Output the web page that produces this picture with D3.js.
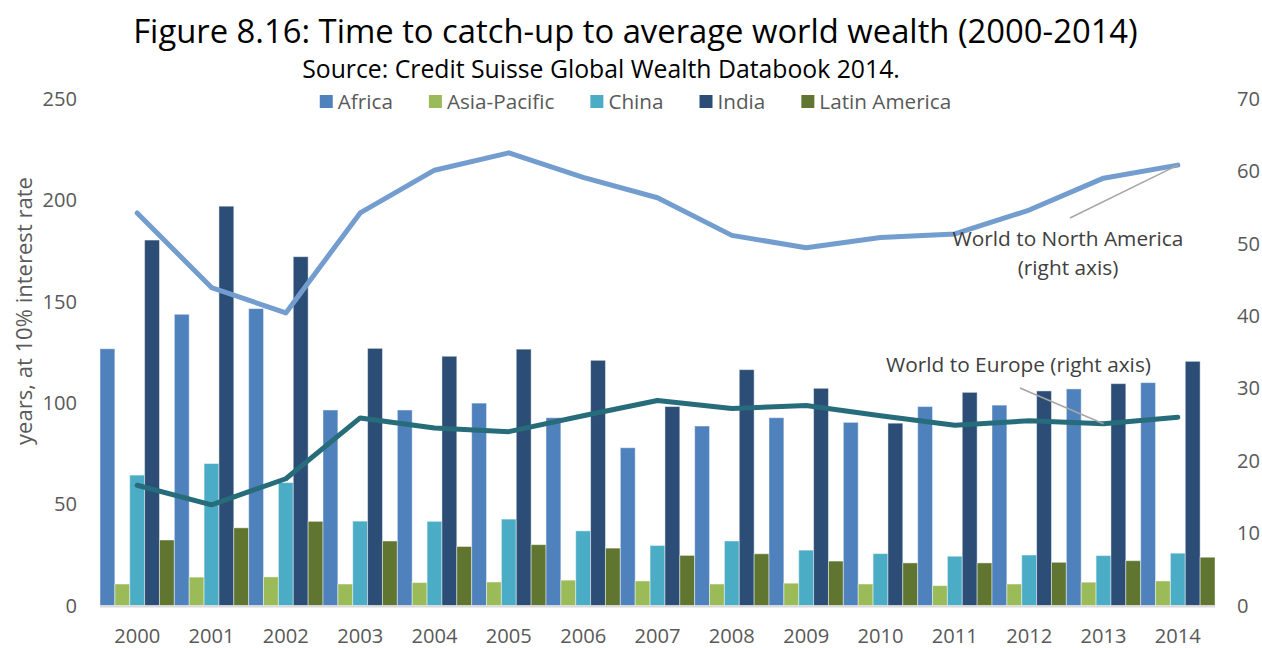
<!DOCTYPE html>
<html>
<head>
<meta charset="utf-8">
<script src="https://cdn.jsdelivr.net/npm/d3@7"></script>
<style>
  html, body { margin: 0; padding: 0; background: #fff; }
  svg { display: block; font-family: "Open Sans", "Noto Sans", sans-serif; }
</style>
</head>
<body>
<svg id="chart" width="1262" height="648"></svg>
<script>
// Years on the category axis
const years = ["2000","2001","2002","2003","2004","2005","2006","2007","2008","2009","2010","2011","2012","2013","2014"];

// Bar series (left axis): years to catch up, at 10% interest rate
const seriesNames = ["Africa", "Asia-Pacific", "China", "India", "Latin America"];
const africa       = [126.6, 143.6, 146.4, 96.4, 96.4, 99.8, 92.6, 77.8, 88.5, 92.6, 90.3, 98.1, 98.8, 106.8, 109.9];
const asiaPacific  = [10.6, 14.0, 14.1, 10.6, 11.3, 11.6, 12.5, 12.1, 10.6, 11.0, 10.6, 9.8, 10.6, 11.5, 12.1];
const china        = [64.3, 70.0, 60.6, 41.6, 41.5, 42.6, 36.8, 29.6, 31.8, 27.3, 25.6, 24.3, 24.9, 24.6, 25.8];
const india        = [180.2, 196.9, 172.0, 126.8, 122.9, 126.4, 120.9, 98.1, 116.3, 107.1, 89.9, 105.1, 105.8, 109.4, 120.4];
const latinAmerica = [32.3, 38.3, 41.5, 31.8, 29.1, 30.0, 28.3, 24.7, 25.5, 21.9, 21.0, 21.0, 21.3, 22.1, 23.8];

// Line series (right axis)
const worldToNorthAmerica = [54.2, 43.9, 40.4, 54.2, 60.1, 62.5, 59.1, 56.3, 51.1, 49.4, 50.8, 51.3, 54.6, 59.0, 60.8];
const worldToEurope       = [16.6, 13.9, 17.5, 25.9, 24.5, 24.0, 26.2, 28.3, 27.2, 27.6, 26.2, 24.9, 25.5, 25.1, 26.0];

// Axis ticks
const leftTicks  = [0, 50, 100, 150, 200, 250];
const rightTicks = [0, 10, 20, 30, 40, 50, 60, 70];

const titleText    = "Figure 8.16: Time to catch-up to average world wealth (2000-2014)";
const subtitleText = "Source: Credit Suisse Global Wealth Databook 2014.";
const yTitleText   = "years, at 10% interest rate";
const naLabel      = ["World to North America", "(right axis)"];
const euLabel      = "World to Europe (right axis)";

const barColors = ["#4F81BD", "#9BBB59", "#4BACC6", "#2C4D75", "#5F7530"];
const naColor = "#739DCF";
const euColor = "#266C7A";
const textColor = "#595959";

const barSeries = [africa, asiaPacific, china, india, latinAmerica];

const svg = d3.select("#chart");

// Plot geometry
const plotLeft = 100, plotRight = 1215, plotTop = 98.5, plotBottom = 605.5;

const x = d3.scaleBand().domain(years).range([plotLeft, plotRight]).paddingInner(0).paddingOuter(0);
const xInner = d3.scaleBand().domain(seriesNames).range([0, x.bandwidth()]).padding(0);
const yLeft = d3.scaleLinear().domain([0, 250]).range([plotBottom, plotTop]);
const yRight = d3.scaleLinear().domain([0, 70]).range([plotBottom, plotTop]);

// Helper: font size so that a string spans a given width
function fitSize(str, width, weight) {
  const t = svg.append("text").attr("font-size", 100).attr("font-weight", weight || 400).text(str);
  const w = t.node().getComputedTextLength();
  t.remove();
  return 100 * width / w;
}

// Title and subtitle
svg.append("text")
  .attr("x", 635.5).attr("y", 43)
  .attr("text-anchor", "middle")
  .attr("font-size", fitSize(titleText, 1005))
  .attr("fill", "#000")
  .text(titleText);

svg.append("text")
  .attr("x", 601).attr("y", 78)
  .attr("text-anchor", "middle")
  .attr("font-size", fitSize(subtitleText, 598))
  .attr("fill", "#000")
  .text(subtitleText);

// Bars
const groups = svg.append("g").selectAll("g")
  .data(years)
  .join("g")
  .attr("transform", d => `translate(${x(d)},0)`);

groups.selectAll("rect")
  .data((d, i) => seriesNames.map((s, k) => ({ s, k, v: barSeries[k][i] })))
  .join("rect")
  .attr("x", d => xInner(d.s))
  .attr("width", xInner.bandwidth())
  .attr("y", d => yLeft(d.v))
  .attr("height", d => yLeft(0) - yLeft(d.v))
  .attr("fill", d => barColors[d.k])
  .attr("stroke", "#ffffff")
  .attr("stroke-opacity", 0.45)
  .attr("stroke-width", 1);

// Category axis line
svg.append("line")
  .attr("x1", plotLeft).attr("x2", plotRight)
  .attr("y1", plotBottom + 1).attr("y2", plotBottom + 1)
  .attr("stroke", "#D9D9D9").attr("stroke-width", 2);

// Lines on the right axis
const lineGen = d3.line()
  .x((d, i) => x(years[i]) + x.bandwidth() / 2)
  .y(d => yRight(d));

svg.append("path")
  .datum(worldToNorthAmerica)
  .attr("d", lineGen)
  .attr("fill", "none")
  .attr("stroke", naColor)
  .attr("stroke-width", 5)
  .attr("stroke-linejoin", "round")
  .attr("stroke-linecap", "round");

svg.append("path")
  .datum(worldToEurope)
  .attr("d", lineGen)
  .attr("fill", "none")
  .attr("stroke", euColor)
  .attr("stroke-width", 5)
  .attr("stroke-linejoin", "round")
  .attr("stroke-linecap", "round");

// Axis tick labels
const tickSize = fitSize("2000", 46);

svg.append("g").selectAll("text")
  .data(years)
  .join("text")
  .attr("x", d => x(d) + x.bandwidth() / 2)
  .attr("y", 636)
  .attr("dy", "0.36em")
  .attr("text-anchor", "middle")
  .attr("font-size", tickSize)
  .attr("fill", textColor)
  .text(d => d);

svg.append("g").selectAll("text")
  .data(leftTicks)
  .join("text")
  .attr("x", 77)
  .attr("y", d => yLeft(d))
  .attr("dy", "0.36em")
  .attr("text-anchor", "end")
  .attr("font-size", tickSize)
  .attr("fill", textColor)
  .text(d => d);

svg.append("g").selectAll("text")
  .data(rightTicks)
  .join("text")
  .attr("x", 1237)
  .attr("y", d => yRight(d))
  .attr("dy", "0.36em")
  .attr("text-anchor", "start")
  .attr("font-size", tickSize)
  .attr("fill", textColor)
  .text(d => d);

// Left axis title
svg.append("text")
  .attr("transform", "translate(32,311) rotate(-90)")
  .attr("text-anchor", "middle")
  .attr("font-size", fitSize(yTitleText, 268))
  .attr("fill", textColor)
  .text(yTitleText);

// Legend
const legendSize = fitSize("Latin America", 132);
const legend = svg.append("g");
let cursor = 0;
seriesNames.forEach((name, k) => {
  const g = legend.append("g");
  g.append("rect").attr("x", 0).attr("y", -7).attr("width", 13).attr("height", 13).attr("fill", barColors[k]);
  const t = g.append("text").attr("x", 18).attr("y", 0).attr("dy", "0.36em")
    .attr("font-size", legendSize).attr("fill", textColor).text(name);
  const w = 18 + t.node().getComputedTextLength();
  g.attr("transform", `translate(${cursor},0)`);
  cursor += w + 36;
});
const legendWidth = cursor - 36;
legend.attr("transform", `translate(${635.5 - legendWidth / 2},102)`);

// Annotations with leader lines
const annSize = fitSize(naLabel[0], 231);
const naEnd = [x(years[14]) + x.bandwidth() / 2, yRight(worldToNorthAmerica[14])];
const euEnd = [x(years[13]) + x.bandwidth() / 2, yRight(worldToEurope[13])];

svg.append("line")
  .attr("x1", 1070).attr("y1", 218)
  .attr("x2", naEnd[0]).attr("y2", naEnd[1])
  .attr("stroke", "#A6A6A6").attr("stroke-width", 1.5);

svg.append("line")
  .attr("x1", 1020).attr("y1", 388)
  .attr("x2", euEnd[0]).attr("y2", euEnd[1])
  .attr("stroke", "#A6A6A6").attr("stroke-width", 1.5);

svg.append("text")
  .attr("x", 1068).attr("y", 246)
  .attr("text-anchor", "middle")
  .attr("font-size", annSize)
  .attr("fill", "#404040")
  .text(naLabel[0]);

svg.append("text")
  .attr("x", 1068).attr("y", 275)
  .attr("text-anchor", "middle")
  .attr("font-size", annSize)
  .attr("fill", "#404040")
  .text(naLabel[1]);

svg.append("text")
  .attr("x", 1018.5).attr("y", 372)
  .attr("text-anchor", "middle")
  .attr("font-size", annSize)
  .attr("fill", "#404040")
  .text(euLabel);
</script>
</body>
</html>
